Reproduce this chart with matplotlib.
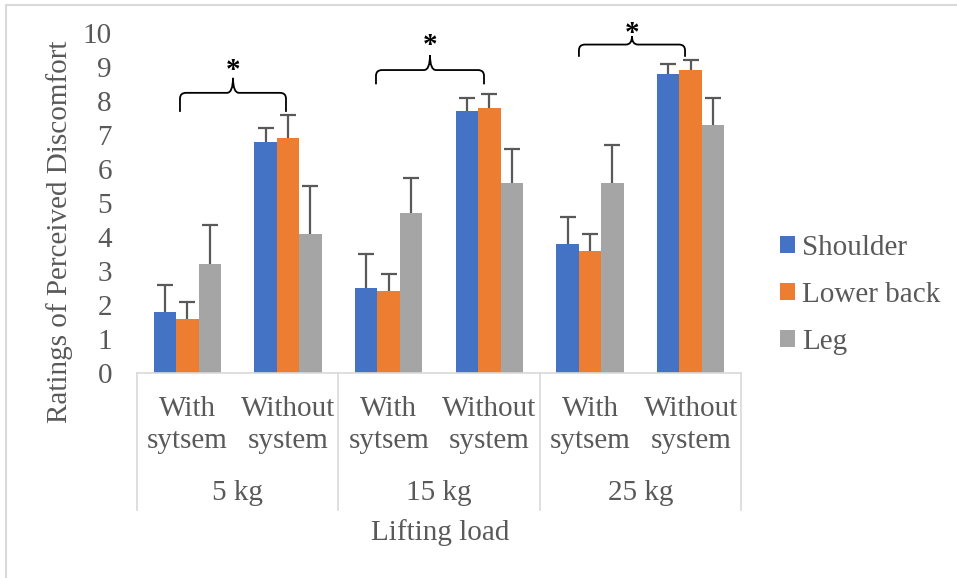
import matplotlib
matplotlib.use("Agg")
import matplotlib.pyplot as plt
import numpy as np
from matplotlib.path import Path
from matplotlib.patches import PathPatch, Patch
from matplotlib.lines import Line2D
import matplotlib.transforms as mtransforms

plt.rcParams['font.family'] = ['Liberation Serif', 'DejaVu Serif']

# ---- data ----
loads = ["5 kg", "15 kg", "25 kg"]
conditions = ["With\nsytsem", "Without\nsystem"]
series_names = ["Shoulder", "Lower back", "Leg"]
shoulder = [1.8, 6.8, 2.5, 7.7, 3.8, 8.8]
lower_back = [1.6, 6.9, 2.4, 7.8, 3.6, 8.9]
leg = [3.2, 4.1, 4.7, 5.6, 5.6, 7.3]
shoulder_err = [0.8, 0.4, 1.0, 0.4, 0.8, 0.3]
lower_back_err = [0.5, 0.7, 0.5, 0.4, 0.5, 0.3]
leg_err = [1.15, 1.4, 1.05, 1.0, 1.1, 0.8]
y_ticks = list(range(0, 11))
y_label = "Ratings of Perceived Discomfort"
x_label = "Lifting load"

colors = ["#4472C4", "#ED7D31", "#A5A5A5"]
text_color = "#595959"
grid_color = "#D9D9D9"
fs = 21

W, H = 957, 578
fig = plt.figure(figsize=(W / 100, H / 100), dpi=100)
ax_left, ax_right, ax_bottom, ax_top = 137, 741, 373, 33
ax = fig.add_axes([ax_left / W, (H - ax_bottom) / H,
                   (ax_right - ax_left) / W, (ax_bottom - ax_top) / H])

n = len(shoulder)
x = np.arange(n)
bw = 0.223
values = [shoulder, lower_back, leg]
errs = [shoulder_err, lower_back_err, leg_err]
for i, (vals, er, c, name) in enumerate(zip(values, errs, colors, series_names)):
    xi = x + (i - 1) * bw
    ax.bar(xi, vals, width=bw, color=c, label=name, linewidth=0, zorder=2)
    eb = ax.errorbar(xi, vals, yerr=[np.zeros(n), er], fmt='none',
                     ecolor=text_color, elinewidth=1.6, capsize=5.5, capthick=1.6, zorder=3)
    # hide the lower caps (plus-only error bars)
    eb[1][0].set_visible(False)

ax.set_xlim(-0.5, n - 0.5)
ax.set_ylim(0, 10)
ax.set_yticks(y_ticks)
ax.tick_params(axis='y', length=0, pad=18, labelsize=fs, labelcolor=text_color)
ax.set_xticks([])
for s in ["top", "right", "left"]:
    ax.spines[s].set_visible(False)
ax.spines["bottom"].set_color(grid_color)
ax.spines["bottom"].set_linewidth(1.2)

# multi-level category labels
trans = mtransforms.blended_transform_factory(ax.transData, fig.transFigure)
for i in range(n):
    ax.text(i, (H - 425) / H, conditions[i % 2], transform=trans, ha='center', va='center',
            fontsize=fs, color=text_color, linespacing=1.32)
for g, lab in enumerate(loads):
    ax.text(2 * g + 0.5, (H - 493) / H, lab, transform=trans, ha='center', va='center',
            fontsize=fs, color=text_color)
for b in [-0.5, 1.5, 3.5, 5.5]:
    ax.add_line(Line2D([b, b], [(H - ax_bottom) / H, (H - 510) / H], transform=trans,
                       color=grid_color, lw=1.2, clip_on=False))

fig.text(440 / W, (H - 533) / H, x_label, ha='center', va='center', fontsize=fs, color=text_color)
fig.text(60 / W, (H - 232) / H, y_label, ha='center', va='center', rotation=90,
         fontsize=fs, color=text_color)

# braces with significance stars
braces = [(-0.073, 0.98, 7.68, 8.24, 8.68, 9.06),
          (1.874, 2.947, 8.49, 8.91, 9.35, 9.79),
          (3.89, 4.944, 9.30, 9.66, 9.90, 10.15)]
rx, ry = 0.06, 0.17
for x0, x1, yb, yh, yt, ys in braces:
    xm = (x0 + x1) / 2
    verts = [(x0, yb), (x0, yh - ry), (x0, yh), (x0 + rx, yh), (xm - rx, yh), (xm, yh), (xm, yt),
             (x1, yb), (x1, yh - ry), (x1, yh), (x1 - rx, yh), (xm + rx, yh), (xm, yh), (xm, yt)]
    codes = [Path.MOVETO, Path.LINETO, Path.CURVE3, Path.CURVE3, Path.LINETO, Path.CURVE3, Path.CURVE3,
             Path.MOVETO, Path.LINETO, Path.CURVE3, Path.CURVE3, Path.LINETO, Path.CURVE3, Path.CURVE3]
    ax.add_patch(PathPatch(Path(verts, codes), fill=False, edgecolor='black', lw=1.3, clip_on=False))
    ax.text(xm, ys - 0.38, "*", ha='center', va='baseline', fontsize=fs, color='black',
            fontweight='bold', clip_on=False)

# legend
handles = [Patch(facecolor=c, edgecolor='none') for c in colors]
fig.legend(handles, series_names, loc='center left', bbox_to_anchor=(780 / W, (H - 295) / H),
           frameon=False, fontsize=fs, labelcolor=text_color, handlelength=0.52, handleheight=0.52,
           handletextpad=0.25, labelspacing=0.72, borderpad=0, borderaxespad=0)

# chart border (top and left visible)
fig.add_artist(Line2D([6 / W, 1], [(H - 5) / H, (H - 5) / H], color=grid_color, lw=1.5))
fig.add_artist(Line2D([6 / W, 6 / W], [(H - 5) / H, 0], color=grid_color, lw=1.5))

fig.savefig("out.png", dpi=100)
